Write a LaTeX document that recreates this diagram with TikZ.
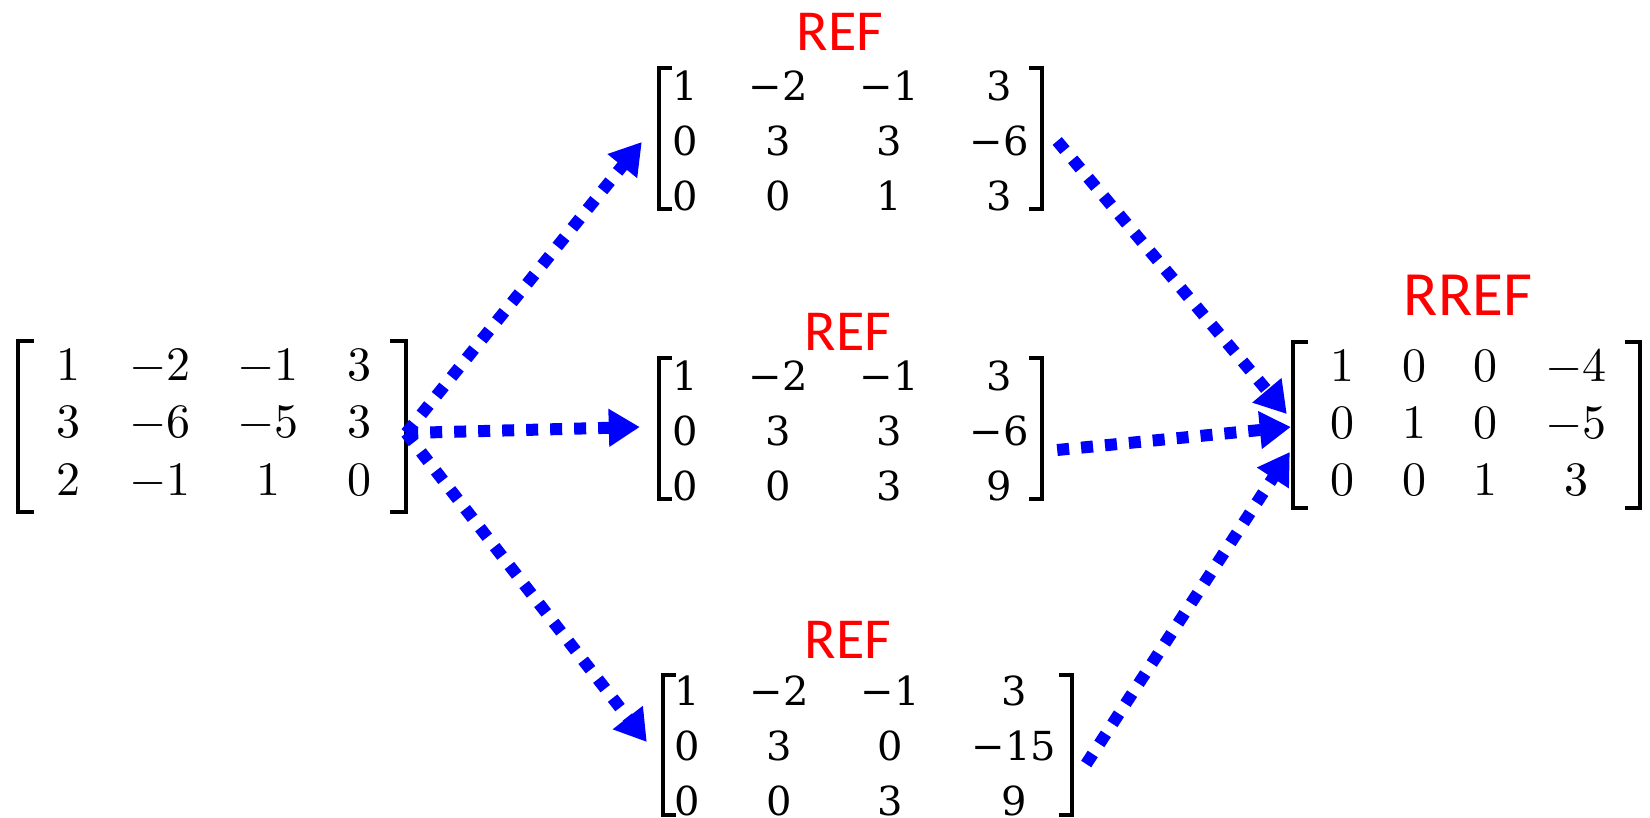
\RequirePackage{fix-cm}
\documentclass[tikz,border=0pt]{standalone}
\usepackage{fontspec}
\setmainfont{lmroman10-regular.otf}
\newfontfamily\calib{Carlito}
\newfontfamily\camb{DejaVu Serif}
\usetikzlibrary{arrows.meta,calc}
\newcommand\mm{\ensuremath{-}}
\newcommand\mbrackets[2]{%
  \draw[brk] ($(#1.north west)+(#2,0)$) -- (#1.north west) -- (#1.south west) -- ($(#1.south west)+(#2,0)$);
  \draw[brk] ($(#1.north east)+(-#2,0)$) -- (#1.north east) -- (#1.south east) -- ($(#1.south east)+(-#2,0)$);
}
\begin{document}
\begin{tikzpicture}[x=1pt,y=-1pt,
  mat/.style={draw=none,inner sep=0pt},
  brk/.style={draw=black,line width=3.5pt,line join=miter},
  lmnum/.style={inner sep=0pt,anchor=base,font=\fontsize{48pt}{48pt}\selectfont},
  cnum/.style={inner sep=0pt,anchor=base,font=\camb\fontsize{40pt}{40pt}\selectfont},
  lab/.style={inner sep=0pt,anchor=base,text=red},
  arr/.style={draw=blue,line width=12pt,dash pattern=on 12pt off 12pt,
    -{Triangle[length=31pt,width=36pt]}}]
\useasboundingbox (0,0) rectangle (1650,817);

% matrix frames
\node[mat,minimum width=388pt,minimum height=171pt] (M0) at (212,426.5) {};
\node[mat,minimum width=383pt,minimum height=141pt] (M1) at (850.5,138.5) {};
\node[mat,minimum width=383pt,minimum height=141pt] (M2) at (850.5,428.5) {};
\node[mat,minimum width=409pt,minimum height=140pt] (M3) at (867.5,745) {};
\node[mat,minimum width=347pt,minimum height=166pt] (M4) at (1466.5,425) {};
\mbrackets{M0}{16}
\mbrackets{M1}{13}
\mbrackets{M2}{13}
\mbrackets{M3}{13}
\mbrackets{M4}{15}

% left matrix
\foreach \x/\y/\t [count=\i] in {68/380/1,160/380/\mm2,268/380/\mm1,359/380/3,
  68/437/3,160/437/\mm6,268/437/\mm5,359/437/3,
  68/495/2,160/495/\mm1,268/495/1,359/495/0}
  \node[lmnum] (L\i) at (\x,\y) {\t};

% top REF matrix
\foreach \x/\y/\t [count=\i] in {685/100/1,778/100/−2,889/100/−1,999/100/3,
  685/155/0,778/155/3,889/155/3,999/155/−6,
  685/210/0,778/210/0,889/210/1,999/210/3}
  \node[cnum] (A\i) at (\x,\y) {\t};

% middle REF matrix
\foreach \x/\y/\t [count=\i] in {685/390/1,778/390/−2,889/390/−1,999/390/3,
  685/445/0,778/445/3,889/445/3,999/445/−6,
  685/500/0,778/500/0,889/500/3,999/500/9}
  \node[cnum] (B\i) at (\x,\y) {\t};

% bottom REF matrix
\foreach \x/\y/\t [count=\i] in {687/705/1,779/705/−2,890/705/−1,1014/705/3,
  687/760/0,779/760/3,890/760/0,1014/760/−15,
  687/815/0,779/815/0,890/815/3,1014/815/9}
  \node[cnum] (C\i) at (\x,\y) {\t};

% RREF matrix
\foreach \x/\y/\t [count=\i] in {1342/381/1,1414/381/0,1485/381/0,1576/381/\mm4,
  1342/438/0,1414/438/1,1485/438/0,1576/438/\mm5,
  1342/495/0,1414/495/0,1485/495/1,1576/495/3}
  \node[lmnum] (D\i) at (\x,\y) {\t};

% labels
\node[lab,font=\calib\fontsize{58pt}{58pt}\selectfont] (T1) at (840,50) {REF};
\node[lab,font=\calib\fontsize{58pt}{58pt}\selectfont] (T2) at (848,350) {REF};
\node[lab,font=\calib\fontsize{58pt}{58pt}\selectfont] (T3) at (848,658) {REF};
\node[lab,font=\calib\fontsize{63pt}{63pt}\selectfont] (T4) at (1468,315) {RREF};

% arrows
\draw[arr] ($(M0.east)+(0,6.5)$) -- ($(M1.west)+(-17,3.5)$);
\draw[arr] ($(M0.east)+(0,6.5)$) -- ($(M2.west)+(-19,-1.5)$);
\draw[arr] ($(M0.east)+(0,6.5)$) -- ($(M3.west)+(-16,-3)$);
\draw[arr] ($(M1.east)+(15,2.5)$) -- ($(M4.west)+(-6,-11)$);
\draw[arr] ($(M2.east)+(15,21.5)$) -- ($(M4.west)+(-2,2)$);
\draw[arr] ($(M3.east)+(14,19)$) -- ($(M4.west)+(-3,27)$);
\end{tikzpicture}
\end{document}
